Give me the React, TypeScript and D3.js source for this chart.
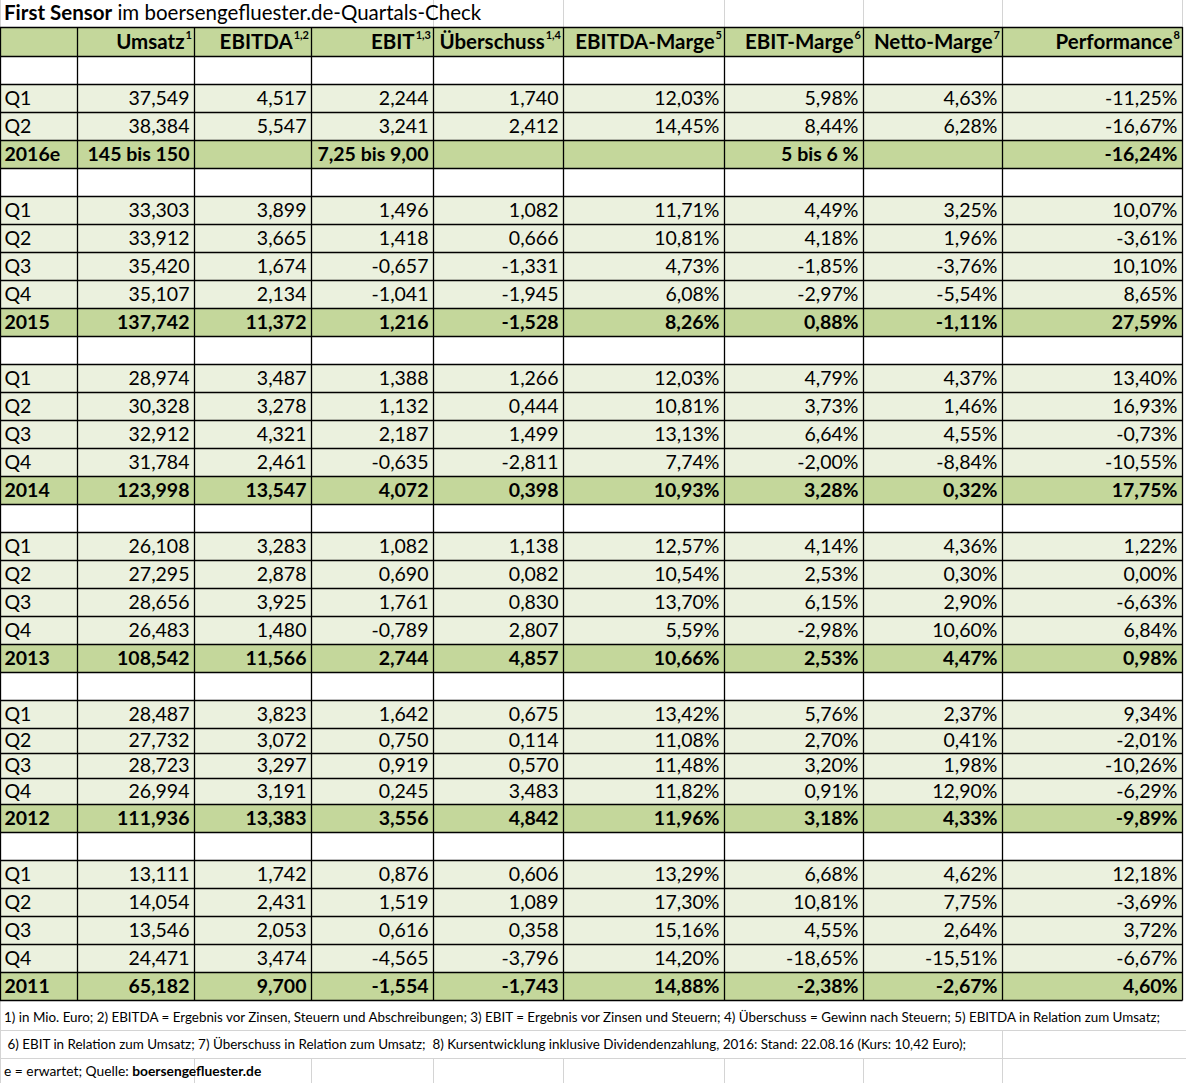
import { useEffect, useRef } from 'react';
import * as d3 from 'd3';

const title = ['First Sensor', ' im boersengefluester.de-Quartals-Check'];

const columns = ['Umsatz', 'EBITDA', 'EBIT', 'Überschuss', 'EBITDA-Marge', 'EBIT-Marge', 'Netto-Marge', 'Performance'];
const columnNotes = ['1', '1,2', '1,3', '1,4', '5', '6', '7', '8'];

const years = ['2016e', '2015', '2014', '2013', '2012', '2011'];

const q2016 = [
  ['Q1', '37,549', '4,517', '2,244', '1,740', '12,03%', '5,98%', '4,63%', '-11,25%'],
  ['Q2', '38,384', '5,547', '3,241', '2,412', '14,45%', '8,44%', '6,28%', '-16,67%'],
];
const y2016 = ['145 bis 150', '', '7,25 bis 9,00', '', '', '5 bis 6 %', '', '-16,24%'];

const q2015 = [
  ['Q1', '33,303', '3,899', '1,496', '1,082', '11,71%', '4,49%', '3,25%', '10,07%'],
  ['Q2', '33,912', '3,665', '1,418', '0,666', '10,81%', '4,18%', '1,96%', '-3,61%'],
  ['Q3', '35,420', '1,674', '-0,657', '-1,331', '4,73%', '-1,85%', '-3,76%', '10,10%'],
  ['Q4', '35,107', '2,134', '-1,041', '-1,945', '6,08%', '-2,97%', '-5,54%', '8,65%'],
];
const y2015 = ['137,742', '11,372', '1,216', '-1,528', '8,26%', '0,88%', '-1,11%', '27,59%'];

const q2014 = [
  ['Q1', '28,974', '3,487', '1,388', '1,266', '12,03%', '4,79%', '4,37%', '13,40%'],
  ['Q2', '30,328', '3,278', '1,132', '0,444', '10,81%', '3,73%', '1,46%', '16,93%'],
  ['Q3', '32,912', '4,321', '2,187', '1,499', '13,13%', '6,64%', '4,55%', '-0,73%'],
  ['Q4', '31,784', '2,461', '-0,635', '-2,811', '7,74%', '-2,00%', '-8,84%', '-10,55%'],
];
const y2014 = ['123,998', '13,547', '4,072', '0,398', '10,93%', '3,28%', '0,32%', '17,75%'];

const q2013 = [
  ['Q1', '26,108', '3,283', '1,082', '1,138', '12,57%', '4,14%', '4,36%', '1,22%'],
  ['Q2', '27,295', '2,878', '0,690', '0,082', '10,54%', '2,53%', '0,30%', '0,00%'],
  ['Q3', '28,656', '3,925', '1,761', '0,830', '13,70%', '6,15%', '2,90%', '-6,63%'],
  ['Q4', '26,483', '1,480', '-0,789', '2,807', '5,59%', '-2,98%', '10,60%', '6,84%'],
];
const y2013 = ['108,542', '11,566', '2,744', '4,857', '10,66%', '2,53%', '4,47%', '0,98%'];

const q2012 = [
  ['Q1', '28,487', '3,823', '1,642', '0,675', '13,42%', '5,76%', '2,37%', '9,34%'],
  ['Q2', '27,732', '3,072', '0,750', '0,114', '11,08%', '2,70%', '0,41%', '-2,01%'],
  ['Q3', '28,723', '3,297', '0,919', '0,570', '11,48%', '3,20%', '1,98%', '-10,26%'],
  ['Q4', '26,994', '3,191', '0,245', '3,483', '11,82%', '0,91%', '12,90%', '-6,29%'],
];
const y2012 = ['111,936', '13,383', '3,556', '4,842', '11,96%', '3,18%', '4,33%', '-9,89%'];

const q2011 = [
  ['Q1', '13,111', '1,742', '0,876', '0,606', '13,29%', '6,68%', '4,62%', '12,18%'],
  ['Q2', '14,054', '2,431', '1,519', '1,089', '17,30%', '10,81%', '7,75%', '-3,69%'],
  ['Q3', '13,546', '2,053', '0,616', '0,358', '15,16%', '4,55%', '2,64%', '3,72%'],
  ['Q4', '24,471', '3,474', '-4,565', '-3,796', '14,20%', '-18,65%', '-15,51%', '-6,67%'],
];
const y2011 = ['65,182', '9,700', '-1,554', '-1,743', '14,88%', '-2,38%', '-2,67%', '4,60%'];

const footnotes = [
  '1) in Mio. Euro; 2) EBITDA = Ergebnis vor Zinsen, Steuern und Abschreibungen; 3) EBIT = Ergebnis vor Zinsen und Steuern; 4) Überschuss = Gewinn nach Steuern; 5) EBITDA in Relation zum Umsatz;',
  ' 6) EBIT in Relation zum Umsatz; 7) Überschuss in Relation zum Umsatz;  8) Kursentwicklung inklusive Dividendenzahlung, 2016: Stand: 22.08.16 (Kurs: 10,42 Euro);',
];
const sourceNote = ['e = erwartet; Quelle: ', 'boersengefluester.de'];

// layout
const W = 1186;
const H = 1083;
const colWidths = [77, 117, 117, 122, 130, 161, 139, 139, 180];
const rowH = 28;
const squeezed: Record<string, number> = { '2012 Q2': 25, '2012 Q3': 25, '2012 Q4': 26 };
const FONT = 'Lato, "Open Sans", sans-serif';
const GREEN = '#c4d79b';
const LIGHT = '#ebf1de';
const GRID = '#d4d4d4';

const App = () => {
  const svgRef = useRef<SVGSVGElement>(null);

  useEffect(() => {
    const svg = d3.select(svgRef.current).attr('width', W).attr('height', H);
    svg.selectAll('*').remove();

    const xs = [0, ...d3.cumsum(colWidths)];

    // build rows
    const quarters = [q2016, q2015, q2014, q2013, q2012, q2011];
    const totals = [y2016, y2015, y2014, y2013, y2012, y2011];
    type Row = { kind: string; cells: string[]; key: string };
    const rows: Row[] = [];
    years.forEach((yr, i) => {
      rows.push({ kind: 'blank', cells: [], key: yr + ' blank' });
      quarters[i].forEach((q) => rows.push({ kind: 'quarter', cells: q, key: yr.slice(0, 4) + ' ' + q[0] }));
      rows.push({ kind: 'total', cells: [yr, ...totals[i]], key: yr + ' total' });
    });

    const top0 = 56;
    const heights = rows.map((r) => squeezed[r.key] ?? rowH);
    const ys = [top0, ...d3.cumsum(heights).map((d) => d + top0)];
    const tableBottom = ys[ys.length - 1];

    const g = svg.append('g').attr('font-family', FONT).attr('fill', '#000');

    g.append('rect').attr('width', W).attr('height', H).attr('fill', '#fff');

    // header background
    g.append('rect').attr('x', 0).attr('y', 27).attr('width', xs[9]).attr('height', 29).attr('fill', GREEN);

    rows.forEach((r, i) => {
      if (r.kind === 'blank') return;
      g.append('rect')
        .attr('x', 0)
        .attr('y', ys[i])
        .attr('width', xs[9])
        .attr('height', heights[i])
        .attr('fill', r.kind === 'total' ? GREEN : LIGHT);
    });

    // light gridlines outside the table
    const gray = g.append('g').attr('stroke', GRID).attr('stroke-width', 1);
    [4, 5, 6, 7, 8, 9].forEach((c) => {
      gray.append('line').attr('x1', xs[c] + 0.5).attr('x2', xs[c] + 0.5).attr('y1', 0).attr('y2', 27);
    });
    gray.append('line').attr('x1', 0.5).attr('x2', 0.5).attr('y1', 0).attr('y2', H);
    const footY = [tableBottom, 1030, 1058, H];
    [1030, 1058].forEach((y) => {
      gray.append('line').attr('x1', 0).attr('x2', W).attr('y1', y + 0.5).attr('y2', y + 0.5);
    });
    gray.append('line').attr('x1', xs[8] + 0.5).attr('x2', xs[8] + 0.5).attr('y1', footY[1]).attr('y2', H);
    [2, 3, 4, 5, 6, 7].forEach((c) => {
      gray.append('line').attr('x1', xs[c] + 0.5).attr('x2', xs[c] + 0.5).attr('y1', footY[2]).attr('y2', H);
    });

    // black table borders
    const bl = g.append('g').attr('stroke', '#000').attr('stroke-width', 1.3);
    [27, ...ys].forEach((y) => {
      bl.append('line').attr('x1', 0).attr('x2', xs[9] + 0.5).attr('y1', y + 0.5).attr('y2', y + 0.5);
    });
    xs.forEach((x) => {
      bl.append('line').attr('x1', x + 0.5).attr('x2', x + 0.5).attr('y1', 27).attr('y2', tableBottom + 0.5);
    });

    // title
    const t = g.append('text').attr('x', 4).attr('y', 20).attr('font-size', 20.5);
    t.append('tspan').attr('font-weight', 'bold').text(title[0]);
    t.append('tspan').text(title[1]);

    // header
    columns.forEach((c, i) => {
      const tx = g
        .append('text')
        .attr('x', xs[i + 2] - 2)
        .attr('y', 49)
        .attr('text-anchor', 'end')
        .attr('font-size', 20.5)
        .attr('font-weight', 'bold');
      tx.append('tspan').text(c);
      tx.append('tspan').attr('font-size', 11).attr('dy', -10).attr('dx', 1).text(columnNotes[i]);
    });

    // cells
    rows.forEach((r, i) => {
      if (r.kind === 'blank') return;
      const baseline = ys[i + 1] - 7 - (heights[i] < rowH ? -1 : 0);
      r.cells.forEach((v, j) => {
        if (!v) return;
        g.append('text')
          .attr('x', j === 0 ? 4.5 : xs[j + 1] - 4.5)
          .attr('y', baseline)
          .attr('text-anchor', j === 0 ? 'start' : 'end')
          .attr('font-size', 19.5)
          .attr('font-weight', r.kind === 'total' ? 'bold' : 'normal')
          .text(v);
      });
    });

    // footnotes
    g.append('text')
      .attr('x', 4)
      .attr('y', 1022)
      .attr('font-size', 13.6)
      .attr('textLength', 1156)
      .attr('lengthAdjust', 'spacingAndGlyphs')
      .attr('xml:space', 'preserve')
      .text(footnotes[0]);
    g.append('text')
      .attr('x', 4)
      .attr('y', 1049)
      .attr('font-size', 13.6)
      .attr('textLength', 962)
      .attr('lengthAdjust', 'spacingAndGlyphs')
      .attr('xml:space', 'preserve')
      .text(footnotes[1]);
    const s = g.append('text').attr('x', 4).attr('y', 1076).attr('font-size', 13.8);
    s.append('tspan').text(sourceNote[0]);
    s.append('tspan').attr('font-weight', 'bold').text(sourceNote[1]);
  }, []);

  return <svg ref={svgRef} style={{ position: 'absolute', left: 0, top: 0, display: 'block' }}></svg>;
};

export default App;
